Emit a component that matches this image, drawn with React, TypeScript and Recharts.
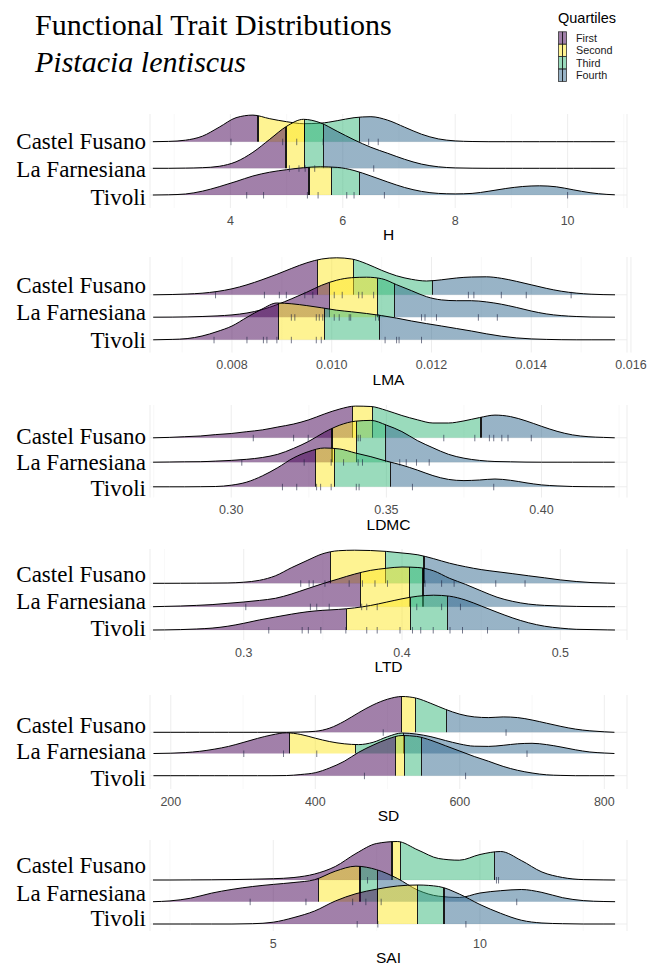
import { ComposedChart, Area, Scatter, XAxis, YAxis, CartesianGrid } from "recharts";

const SITES = ["Castel Fusano", "La Farnesiana", "Tivoli"];
const QUARTILES = ["First", "Second", "Third", "Fourth"];
const COLORS = ["#440154", "#FDE725", "#35B779", "#31688E"];

// ---- H ----
const hX = [2.62, 2.9, 3.2, 3.5, 3.8, 4.1, 4.4, 4.7, 5.0, 5.3, 5.6, 5.9, 6.2, 6.5, 6.8, 7.1, 7.4, 7.7, 8.0, 8.3, 8.6, 8.9, 9.2, 9.5, 9.8, 10.1, 10.4, 10.7, 10.84];
const hCF = [0, 0.3, 1.5, 5.5, 14.5, 24, 26.6, 23, 20, 18, 18.5, 21, 24, 25, 21.5, 14.5, 7.5, 2.8, 0.8, 0.2, 0, 0, 0, 0, 0, 0, 0, 0, 0];
const hLF = [0, 0, 0.2, 0.6, 2, 6.5, 16, 29, 42, 49, 45.5, 37, 28.5, 21, 15, 9, 4.2, 1.5, 0.4, 0.1, 0, 0, 0, 0, 0, 0, 0, 0, 0];
const hTV = [0, 0.2, 1, 3.8, 8.3, 13.5, 19, 22.8, 25.3, 27.3, 28.2, 27.6, 24.5, 19, 13, 7.5, 3.6, 1.6, 1.1, 1.6, 3.8, 6.5, 8.5, 9.2, 8.2, 5.2, 2.3, 0.6, 0.2];
const hQ = [[4.49, 5.32, 6.29], [4.99, 5.32, 5.66], [5.4, 5.8, 6.3]];
const hRug = [
  [4.01, 4.93, 5.18, 5.65, 6.46, 6.63],
  [5.05, 5.22, 5.33, 5.5, 6.55],
  [4.29, 4.59, 5.37, 5.56, 6.07, 6.2, 6.74, 10.0],
];
const hTicks = [4, 6, 8, 10];
const hMinor = [3, 5, 7, 9, 11];

// ---- LMA ----
const lmaX = [0.00642, 0.0068, 0.0071, 0.0074, 0.0077, 0.008, 0.0083, 0.0086, 0.0089, 0.0092, 0.0095, 0.0098, 0.0101, 0.0104, 0.0107, 0.011, 0.0113, 0.0116, 0.0119, 0.0122, 0.0125, 0.0128, 0.0131, 0.0134, 0.0137, 0.014, 0.0143, 0.0146, 0.0149, 0.0152, 0.01568];
const lmaCF = [0, 0.3, 0.8, 1.6, 3.3, 6, 10, 15, 20.5, 26.5, 32, 35.8, 37, 35.8, 31, 24.5, 19, 15.5, 13.8, 15, 16.8, 17.8, 18, 16.5, 13.5, 10, 6.5, 3.6, 1.7, 0.6, 0];
const lmaLF = [0, 0.1, 0.3, 0.7, 1.3, 2.3, 4.2, 7.5, 12.5, 18.5, 25, 32, 37, 39.5, 40, 38.5, 32.5, 26.5, 20.5, 17.3, 16.5, 16.5, 15.3, 13, 9.8, 6.2, 3.3, 1.6, 0.7, 0.2, 0];
const lmaTV = [0, 0.4, 1.2, 3.8, 8.2, 13.8, 22.5, 30.7, 36.8, 36, 34.2, 32, 29.6, 28, 26.3, 24.2, 21.7, 18.8, 16.2, 13.8, 11.3, 8.8, 6, 3.6, 1.9, 0.9, 0.4, 0.1, 0, 0, 0];
const lmaQ = [[0.00971, 0.01043, 0.01202], [0.00996, 0.01091, 0.01126], [0.00893, 0.00985, 0.01096]];
const lmaRug = [
  [0.00767, 0.00865, 0.00895, 0.00909, 0.00946, 0.00962, 0.01005, 0.01021, 0.01054, 0.01061, 0.01084, 0.01274, 0.01285, 0.0134, 0.0139, 0.0148],
  [0.00919, 0.00926, 0.00969, 0.00975, 0.00982, 0.01005, 0.01015, 0.01035, 0.01038, 0.01088, 0.01094, 0.0118, 0.01187, 0.0121, 0.01294, 0.01332],
  [0.00764, 0.0083, 0.00863, 0.0087, 0.0089, 0.00919, 0.00969, 0.00979, 0.01107, 0.0113, 0.01135, 0.0118],
];
const lmaTicks = [0.008, 0.01, 0.012, 0.014, 0.016];
const lmaMinor = [0.007, 0.009, 0.011, 0.013, 0.015];

// ---- LDMC ----
const ldmcX = [0.2748, 0.28, 0.285, 0.29, 0.295, 0.3, 0.305, 0.31, 0.315, 0.32, 0.325, 0.33, 0.335, 0.34, 0.345, 0.35, 0.355, 0.36, 0.365, 0.37, 0.375, 0.38, 0.385, 0.39, 0.395, 0.4, 0.405, 0.41, 0.415, 0.42, 0.4236];
const ldmcCF = [0, 0.4, 1.1, 1.8, 3.2, 4.3, 6.1, 7.9, 10.8, 13.7, 18, 23.8, 28.8, 31.7, 31.3, 27.4, 22.3, 18, 14.8, 14.8, 16.9, 20.2, 22.7, 21.2, 16.9, 11.5, 6.5, 2.9, 1.1, 0.4, 0];
const ldmcLF = [0, 0.2, 0.4, 0.5, 1.1, 1.8, 2.9, 4.7, 7.9, 13.7, 20.9, 29.9, 37.1, 41, 41.8, 37.1, 30.6, 21.6, 14.4, 7.9, 4, 1.8, 0.7, 0.4, 0.1, 0, 0, 0, 0, 0, 0];
const ldmcTV = [0, 0, 0, 0.1, 0.3, 1.6, 4.7, 10.9, 19.2, 28.8, 35.3, 38.8, 37.8, 33.8, 30.1, 25.7, 21.7, 16.7, 11.2, 7.4, 6.2, 6.8, 7.8, 6.5, 4, 1.9, 0.9, 0.3, 0.1, 0, 0];
const ldmcQ = [[0.3391, 0.3456, 0.3805], [0.3325, 0.3404, 0.3497], [0.3271, 0.3333, 0.3513]];
const ldmcRug = [
  [0.3071, 0.3201, 0.3248, 0.3409, 0.3416, 0.3685, 0.3785, 0.3832, 0.3846, 0.3872, 0.3892, 0.3967],
  [0.3034, 0.3235, 0.3322, 0.3362, 0.3409, 0.3423, 0.3543, 0.3564, 0.3597, 0.3638],
  [0.3165, 0.3211, 0.3275, 0.3288, 0.3322, 0.3403, 0.3412, 0.3584, 0.3846],
];
const ldmcTicks = [0.3, 0.35, 0.4];
const ldmcMinor = [0.275, 0.325, 0.375, 0.425];

// ---- LTD ----
const ltdX = [0.2427, 0.25, 0.26, 0.27, 0.28, 0.29, 0.3, 0.31, 0.32, 0.33, 0.34, 0.35, 0.36, 0.37, 0.38, 0.39, 0.4, 0.41, 0.42, 0.43, 0.44, 0.45, 0.46, 0.47, 0.48, 0.49, 0.5, 0.51, 0.52, 0.53, 0.5345];
const ltdCF = [0, 0, 0.05, 0.1, 0.2, 0.35, 1.1, 3, 7.5, 15.5, 22.8, 29.6, 32.6, 33.1, 32.8, 31.9, 30.3, 28.5, 24.6, 20.1, 16.6, 13.7, 11.6, 9.6, 7.5, 5.5, 3.4, 1.8, 0.7, 0.2, 0];
const ltdLF = [0, 0.3, 0.7, 1.3, 2.1, 3.4, 4.7, 6.3, 8.4, 12.6, 17.9, 23.1, 27.9, 32.6, 36.3, 38.4, 39.7, 39.2, 35.8, 28.4, 22.4, 15.8, 9.5, 5.3, 2.6, 1.3, 0.7, 0.3, 0.1, 0, 0];
const ltdTV = [0, 0.1, 0.4, 1, 1.9, 3.8, 6.7, 10.1, 13, 15.8, 18.2, 19.7, 20.6, 22.1, 24.5, 27.8, 31.2, 33.8, 34.8, 33.8, 30, 24, 17.8, 12, 7.2, 3.8, 1.9, 0.7, 0.4, 0.1, 0];
const ltdQ = [[0.3547, 0.3895, 0.4139], [0.3737, 0.4047, 0.4132], [0.365, 0.4053, 0.4289]];
const ltdRug = [
  [0.336, 0.3413, 0.3439, 0.3513, 0.3666, 0.375, 0.3829, 0.3908, 0.4145, 0.425, 0.4329, 0.4592, 0.4777],
  [0.3013, 0.3421, 0.3461, 0.354, 0.3745, 0.3777, 0.3843, 0.4093, 0.425, 0.4369],
  [0.3158, 0.3369, 0.3408, 0.3487, 0.3645, 0.3777, 0.3843, 0.3987, 0.4066, 0.4118, 0.4197, 0.4303, 0.4382, 0.454, 0.4737],
];
const ltdTicks = [0.3, 0.4, 0.5];
const ltdMinor = [0.25, 0.35, 0.45];

// ---- SD ----
const sdX = [176, 200, 220, 240, 260, 280, 300, 320, 340, 360, 380, 400, 420, 440, 460, 480, 500, 520, 540, 560, 580, 600, 620, 640, 660, 680, 700, 720, 740, 760, 780, 800, 814];
const sdCF = [0, 0, 0, 0, 0, 0, 0, 0, 0, 0, 0.25, 1, 4.2, 11, 19.6, 27.4, 33.1, 35.8, 34.1, 28.9, 23, 18.1, 15.4, 14.7, 15.4, 14.7, 12.3, 9.1, 5.9, 3.2, 1.5, 0.5, 0];
const sdLF = [0, 0.3, 0.9, 2.2, 4.3, 7.1, 11, 15.1, 18.6, 20.7, 19, 15.3, 11.9, 9.7, 8.9, 11.2, 16.8, 20.5, 19.4, 16.8, 13, 9.5, 7.3, 7.1, 8.2, 9.7, 10.2, 8.9, 6.5, 3.7, 1.5, 0.5, 0];
const sdTV = [0, 0, 0, 0, 0, 0, 0, 0, 0, 0.15, 1.2, 3, 7.8, 14.4, 23.4, 30.6, 36.6, 40.2, 39.3, 35.4, 30, 24.6, 19.2, 14.4, 9.3, 5.4, 2.7, 0.9, 0.3, 0, 0, 0, 0];
const sdQ = [[519, 539, 582], [364, 456, 522], [511, 524, 547]];
const sdRug = [[494, 664], [301, 356, 402, 693], [468, 608]];
const sdTicks = [200, 400, 600, 800];
const sdMinor = [300, 500, 700];

// ---- SAI ----
const saiX = [2.09, 2.5, 3, 3.5, 4, 4.5, 5, 5.5, 6, 6.5, 7, 7.5, 8, 8.5, 9, 9.5, 10, 10.5, 11, 11.5, 12, 12.5, 13, 13.27];
const saiCF = [0, 0, 0.1, 0.2, 0.4, 0.8, 1.3, 2.5, 6, 13.5, 26.5, 36.5, 38.5, 30, 21.5, 19.8, 25.5, 28.5, 19.5, 8, 2.5, 0.4, 0.1, 0];
const saiLF = [0, 0.8, 3.5, 8.5, 12.3, 15.2, 17.3, 19.2, 22, 30.5, 35.5, 32, 23.3, 11.5, 5.5, 4.2, 8.7, 11, 12.2, 9.3, 4, 1.1, 0.2, 0];
const saiTV = [0, 0, 0, 0, 0, 0.3, 1.8, 6.5, 13, 23, 30.3, 34.8, 38, 39, 37.5, 30, 19.5, 10.7, 3.8, 1, 0.3, 0, 0, 0];
const saiQ = [[7.87, 8.08, 10.35], [6.09, 7.1, 7.53], [7.53, 8.49, 9.13]];
const saiRug = [[7.28, 10.4, 10.45], [4.44, 5.79, 6.92, 7.24, 7.61, 10.89], [7.03, 7.53, 9.66]];
const saiTicks = [5, 10];
const saiMinor = [2.5, 7.5, 12.5];

// layout of each panel on the page (px), plus axis set-up
const PANELS = [
  { id: "h", title: "H", x: hX, dens: [hCF, hLF, hTV], q: hQ, rug: hRug, ticks: hTicks, minor: hMinor, dec: 0,
    domain: [2.569, 11.057], top: 114, bottom: 208, bases: [141.7, 168.3, 195], labels: [141, 169, 197] },
  { id: "lma", title: "LMA", x: lmaX, dens: [lmaCF, lmaLF, lmaTV], q: lmaQ, rug: lmaRug, ticks: lmaTicks, minor: lmaMinor, dec: 3,
    domain: [0.006356, 0.01592], top: 256.5, bottom: 352, bases: [294.3, 316.7, 339.3], labels: [285, 312, 340] },
  { id: "ldmc", title: "LDMC", x: ldmcX, dens: [ldmcCF, ldmcLF, ldmcTV], q: ldmcQ, rug: ldmcRug, ticks: ldmcTicks, minor: ldmcMinor, dec: 2,
    domain: [0.27381, 0.42755], top: 404.5, bottom: 497, bases: [437.3, 461.7, 486.3], labels: [436, 461.5, 488] },
  { id: "ltd", title: "LTD", x: ltdX, dens: [ltdCF, ltdLF, ltdTV], q: ltdQ, rug: ltdRug, ticks: ltdTicks, minor: ltdMinor, dec: 1,
    domain: [0.24078, 0.54211], top: 549, bottom: 640, bases: [583.3, 606.7, 630], labels: [574, 601.5, 628] },
  { id: "sd", title: "SD", x: sdX, dens: [sdCF, sdLF, sdTV], q: sdQ, rug: sdRug, ticks: sdTicks, minor: sdMinor, dec: 0,
    domain: [171.2, 831.4], top: 695, bottom: 789, bases: [732.3, 753.5, 775.7], labels: [725, 751.5, 778.3] },
  { id: "sai", title: "SAI", x: saiX, dens: [saiCF, saiLF, saiTV], q: saiQ, rug: saiRug, ticks: saiTicks, minor: saiMinor, dec: 0,
    domain: [2.017, 13.558], top: 840, bottom: 931, bases: [880, 901.7, 924], labels: [865, 893, 918] },
];

const SANS = "'Liberation Sans', Arial, sans-serif";
const SERIF = "'Liberation Serif', 'Times New Roman', serif";

// hard-edged horizontal gradient: quartile colours split by thin black bands
function quartileStops(q: number[], x0: number, x1: number) {
  const e = 0.6 / 462;
  const f = q.map(v => (v - x0) / (x1 - x0));
  const out: any[] = [];
  COLORS.forEach((c, i) => {
    const start = i === 0 ? 0 : f[i - 1] + e;
    const end = i === 3 ? 1 : f[i] - e;
    out.push(<stop key={`a${i}`} offset={start} stopColor={c} stopOpacity={0.5} />);
    out.push(<stop key={`b${i}`} offset={end} stopColor={c} stopOpacity={0.5} />);
    if (i < 3) {
      out.push(<stop key={`c${i}`} offset={end} stopColor="#000" stopOpacity={0.9} />);
      out.push(<stop key={`d${i}`} offset={f[i] + e} stopColor="#000" stopOpacity={0.9} />);
    }
  });
  return out;
}

const RugMark = (props: any) => {
  const { cx, cy } = props;
  if (cx == null || cy == null) return null;
  return <line x1={cx} x2={cx} y1={cy - 3} y2={cy + 3.5} stroke="#1c2240" strokeOpacity={0.6} strokeWidth={1} />;
};

function Ridges({ p }: { p: any }) {
  const plotH = p.bottom - p.top;
  const baseVals = p.bases.map((b: number) => p.bottom - b);
  const labelVals = p.labels.map((l: number) => p.bottom - l);
  const rows = p.x.map((x: number, i: number) => {
    const r: any = { x };
    p.dens.forEach((d: number[], k: number) => { r["r" + k] = baseVals[k] + d[i]; });
    return r;
  });
  const x0 = p.x[0];
  const x1 = p.x[p.x.length - 1];

  const SiteTick = (props: any) => {
    const { x, y, payload } = props;
    let idx = 0;
    labelVals.forEach((v: number, i: number) => {
      if (Math.abs(v - payload.value) < Math.abs(labelVals[idx] - payload.value)) idx = i;
    });
    return (
      <text x={x} y={y} dy="0.33em" textAnchor="end" fontFamily={SERIF} fontSize={23} fill="#000">
        {SITES[idx]}
      </text>
    );
  };

  return (
    <div style={{ position: "absolute", left: 0, top: p.top }}>
      <ComposedChart width={650} height={plotH + 45} data={rows} margin={{ top: 0, right: 23, bottom: 0, left: 0 }}>
        <defs>
          {p.q.map((q: number[], k: number) => (
            <linearGradient key={k} id={`${p.id}-g${k}`} x1="0" y1="0" x2="1" y2="0">
              {quartileStops(q, x0, x1)}
            </linearGradient>
          ))}
        </defs>
        <CartesianGrid horizontal={false} verticalValues={p.minor} stroke="#F3F3F3" strokeWidth={0.6} />
        <CartesianGrid horizontal={false} stroke="#EBEBEB" strokeWidth={0.9} />
        <CartesianGrid vertical={false} horizontalValues={baseVals} stroke="#EBEBEB" strokeWidth={0.9} />
        <XAxis
          type="number"
          dataKey="x"
          domain={p.domain}
          ticks={p.ticks}
          allowDataOverflow
          axisLine={false}
          tickLine={false}
          height={45}
          tickFormatter={(v: number) => v.toFixed(p.dec)}
          tick={{ fill: "#4D4D4D", fontSize: 12.5, fontFamily: SANS }}
          label={{ value: p.title, position: "insideTop", offset: 21, fill: "#000", fontSize: 15.5, fontFamily: SANS }}
        />
        <YAxis
          type="number"
          domain={[0, plotH]}
          ticks={labelVals}
          allowDataOverflow
          width={150}
          axisLine={false}
          tickLine={false}
          tickSize={0}
          tickMargin={4}
          tick={<SiteTick />}
        />
        {p.dens.map((_: number[], k: number) => (
          <Area
            key={`a${k}`}
            type="monotone"
            dataKey={"r" + k}
            baseValue={baseVals[k]}
            stroke="#000"
            strokeWidth={1}
            fill={`url(#${p.id}-g${k})`}
            fillOpacity={1}
            dot={false}
            activeDot={false}
            isAnimationActive={false}
          />
        ))}
        {p.rug.map((pts: number[], k: number) => (
          <Scatter
            key={`s${k}`}
            data={pts.map(v => ({ x: v, y: baseVals[k] }))}
            dataKey="y"
            shape={RugMark}
            isAnimationActive={false}
          />
        ))}
      </ComposedChart>
    </div>
  );
}

function Header() {
  const rowsY = [38, 50.4, 62.8, 75.2];
  return (
    <svg width={650} height={90} style={{ position: "absolute", left: 0, top: 0 }}>
      <text x={35} y={35} fontFamily={SERIF} fontSize={30} fill="#000">Functional Trait Distributions</text>
      <text x={35} y={72} fontFamily={SERIF} fontSize={30} fontStyle="italic" fill="#000">Pistacia lentiscus</text>
      <text x={558} y={23} fontFamily={SANS} fontSize={14.5} fill="#000">Quartiles</text>
      {QUARTILES.map((name, i) => (
        <g key={name}>
          <rect x={558.5} y={rowsY[i] - 6.2} width={8} height={12.4} fill={COLORS[i]} fillOpacity={0.5} stroke="#333" strokeWidth={0.8} />
          <line x1={562.5} x2={562.5} y1={rowsY[i] - 6.2} y2={rowsY[i] + 6.2} stroke="#000" strokeWidth={0.8} />
          <text x={576} y={rowsY[i] + 3.9} fontFamily={SANS} fontSize={10.8} fill="#1a1a1a">{name}</text>
        </g>
      ))}
    </svg>
  );
}

export default function App() {
  return (
    <div style={{ position: "absolute", left: 0, top: 0, width: 650, height: 965, background: "#fff", overflow: "hidden" }}>
      <Header />
      {PANELS.map(p => <Ridges key={p.id} p={p} />)}
    </div>
  );
}
